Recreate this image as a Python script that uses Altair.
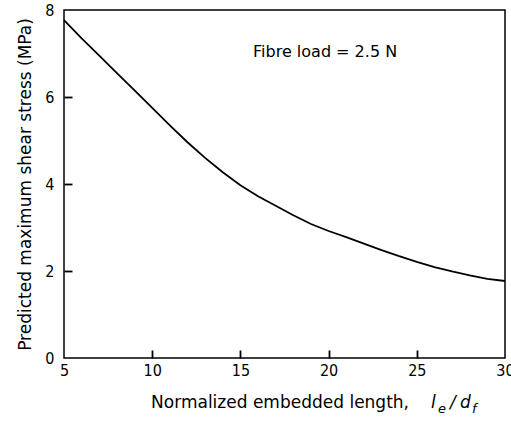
import altair as alt
import pandas as pd

# Curve data
length_ratio = [5, 6, 7, 8, 9, 10, 11, 12, 13, 14, 15, 16, 17, 18, 19, 20,
                21, 22, 23, 24, 25, 26, 27, 28, 29, 30]
max_shear = [7.77, 7.35, 6.95, 6.55, 6.15, 5.75, 5.35, 4.96, 4.6, 4.27, 3.97,
             3.72, 3.5, 3.28, 3.08, 2.92, 2.78, 2.63, 2.48, 2.34, 2.21, 2.09,
             1.99, 1.9, 1.82, 1.77]

x_ticks = [5, 10, 15, 20, 25, 30]
y_ticks = [0, 2, 4, 6, 8]
x_inner_ticks = [10, 15, 20, 25]
y_inner_ticks = [2, 4, 6]

note_text = ["Fibre load = 2.5 N"]
note_x = [19.8]
note_y = [7.03]

W, H = 441, 348
TICK = 8
LFONT = "DejaVu Sans Condensed, DejaVu Sans"
TFONT = "DejaVu Sans"

df = pd.DataFrame({"x": length_ratio, "y": max_shear})
xs = alt.Scale(domain=[5, 30], nice=False, zero=False)
ys = alt.Scale(domain=[0, 8], nice=False)

line = alt.Chart(df).mark_line(color="black", strokeWidth=1.8).encode(
    x=alt.X("x:Q", scale=xs,
            axis=alt.Axis(orient="bottom", values=x_ticks, title=None, ticks=False,
                          domain=False, grid=False, labelFontSize=16, labelFont=LFONT,
                          labelColor="black", labelPadding=4, labelFlush=False)),
    y=alt.Y("y:Q", scale=ys,
            axis=alt.Axis(orient="left", values=y_ticks,
                          title="Predicted maximum shear stress (MPa)",
                          ticks=False, domain=False, grid=False, labelFontSize=16,
                          labelFont=LFONT, labelColor="black", labelPadding=10,
                          titleFont=TFONT, titleFontSize=17, titleFontWeight="normal",
                          titleColor="black", titlePadding=10)),
)

# Second, invisible copy of the curve that carries inward-pointing tick axes
tick_axes = alt.Chart(df).mark_line(strokeOpacity=0).encode(
    x=alt.X("x:Q", scale=xs,
            axis=alt.Axis(orient="bottom", values=x_inner_ticks, offset=-TICK,
                          ticks=True, tickSize=TICK, tickWidth=1.8,
                          tickColor="black", labels=False, domain=False,
                          grid=False, title=None)),
    y=alt.Y("y:Q", scale=ys,
            axis=alt.Axis(orient="left", values=y_inner_ticks, offset=-TICK,
                          ticks=True, tickSize=TICK, tickWidth=1.8,
                          tickColor="black", labels=False, domain=False,
                          grid=False, title=None)),
)

note = alt.Chart(pd.DataFrame({"t": note_text, "x": note_x, "y": note_y})).mark_text(
    font=TFONT, fontSize=16, color="black", align="center", baseline="middle").encode(
    x=alt.X("x:Q", scale=xs, axis=None), y=alt.Y("y:Q", scale=ys, axis=None),
    text="t:N")

def txt(s, px, py, size=17, italic=False, align="left", font=TFONT):
    return alt.Chart(pd.DataFrame({"t": [s]})).mark_text(
        font=font, fontSize=size, color="black", align=align,
        baseline="alphabetic", fontStyle="italic" if italic else "normal").encode(
        x=alt.value(px), y=alt.value(py), text="t:N")

title_layers = [
    txt("Normalized embedded length,", 345, 398, align="right"),
    txt("l", 367, 398, italic=True),
    txt("e", 374, 403, size=13, italic=True),
    txt("/", 386, 398, italic=True),
    txt("d", 396, 398, italic=True),
    txt("f", 408, 403, size=13, italic=True),
]

chart = alt.layer(line, tick_axes, note, *title_layers).resolve_axis(
    x="independent", y="independent"
).properties(
    width=W, height=H,
    autosize=alt.AutoSizeParams(type="none"),
    padding={"left": 64, "top": 10, "right": 6, "bottom": 63},
).configure(background="white").configure_view(stroke="black", strokeWidth=1.5)

chart.save("out.html", embed_options={"renderer": "svg", "actions": False})
